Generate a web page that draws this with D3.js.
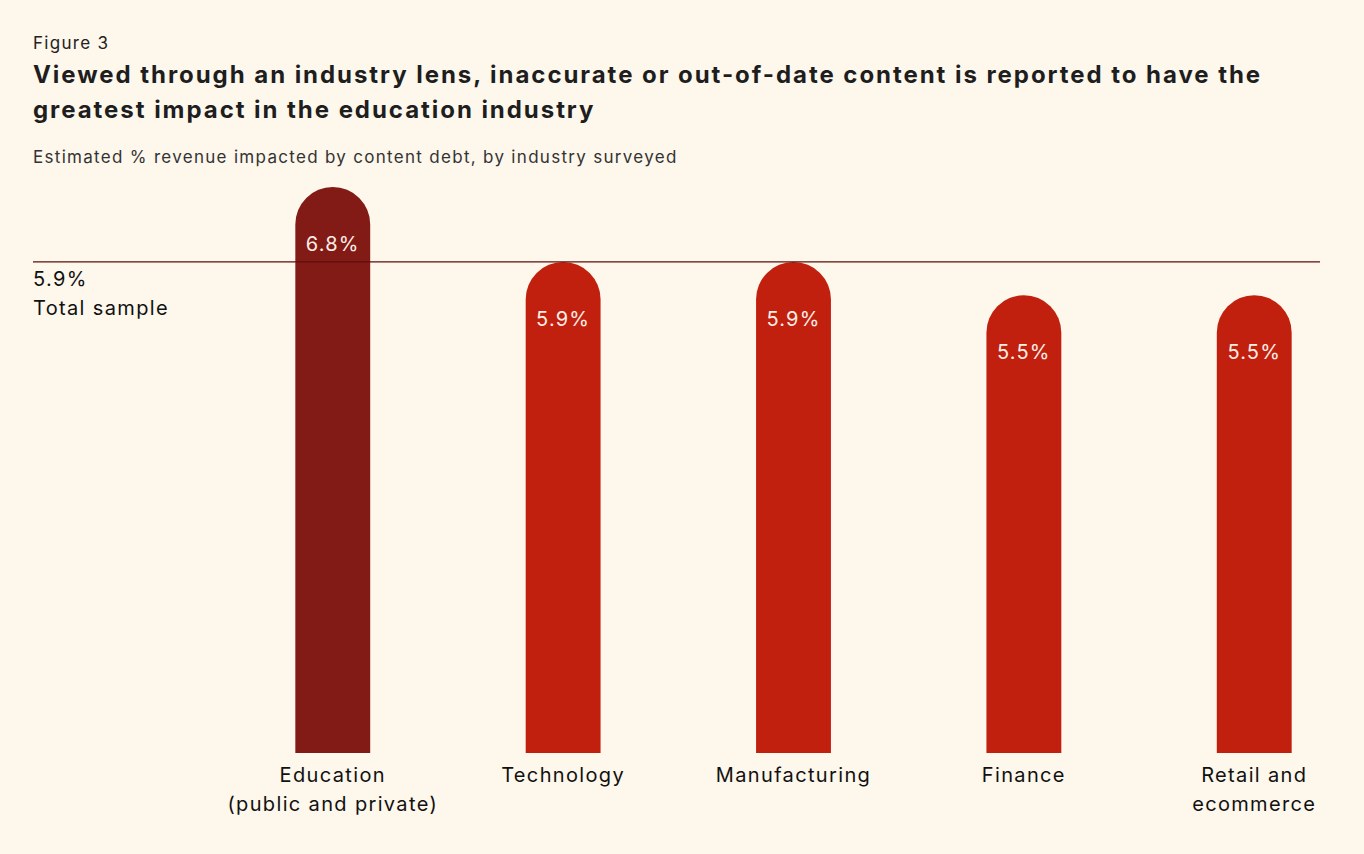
<!DOCTYPE html>
<html>
<head>
<meta charset="utf-8">
<script src="https://cdn.jsdelivr.net/npm/d3@7"></script>
<style>
  html, body { margin: 0; padding: 0; background: #fef7ec; }
  svg { display: block; }
</style>
</head>
<body>
<div id="chart"></div>
<script>
const industries = ['Education|(public and private)', 'Technology', 'Manufacturing', 'Finance', 'Retail and|ecommerce'];
const revenueImpact = [6.8, 5.9, 5.9, 5.5, 5.5];
const totalSample = 5.9;
const highlight = 'Education|(public and private)';

const W = 1364, H = 854;
const svg = d3.select('#chart')
    .append('svg')
    .attr('width', W)
    .attr('height', H);

svg.append('rect').attr('width', W).attr('height', H).attr('fill', '#fef7ec');

svg.append('text')
    .attr('x', 33).attr('y', 49)
    .attr('font-family', 'Inter, sans-serif')
    .attr('font-size', 17)
    .attr('letter-spacing', 1.3)
    .attr('fill', '#222')
    .text('Figure 3');

const titleLines = [
    'Viewed through an industry lens, inaccurate or out-of-date content is reported to have the',
    'greatest impact in the education industry'
];
svg.append('g')
    .selectAll('text')
    .data(titleLines)
    .join('text')
    .attr('x', 33)
    .attr('y', (d, i) => 83 + i * 35)
    .attr('font-family', 'Inter, sans-serif')
    .attr('font-weight', 700)
    .attr('font-size', 24)
    .attr('letter-spacing', 1.95)
    .attr('fill', '#1e1e1e')
    .text(d => d);

svg.append('text')
    .attr('x', 33).attr('y', 163)
    .attr('font-family', 'Inter, sans-serif')
    .attr('font-size', 17)
    .attr('letter-spacing', 1.3)
    .attr('fill', '#333')
    .text('Estimated % revenue impacted by content debt, by industry surveyed');

const x = d3.scaleBand()
    .domain(industries)
    .range([217, 1370])
    .paddingInner(0.675)
    .paddingOuter(0.34);

const y = d3.scaleLinear()
    .domain([0, 6.8])
    .range([753, 187]);

const bw = x.bandwidth();
const r = bw / 2;

const barPath = d => {
    const x0 = x(d.cat), x1 = x0 + bw, top = y(d.v), base = y(0);
    return `M${x0},${base}V${top + r}A${r},${r} 0 0 1 ${x1},${top + r}V${base}Z`;
};

const rows = industries.map((c, i) => ({ cat: c, v: revenueImpact[i] }));

const bars = svg.append('g').selectAll('g')
    .data(rows)
    .join('g');

bars.append('path')
    .attr('d', barPath)
    .attr('fill', d => d.cat === highlight ? '#821a16' : '#c1200e');

bars.append('text')
    .attr('x', d => x(d.cat) + r)
    .attr('y', d => y(d.v) + 64)
    .attr('text-anchor', 'middle')
    .attr('font-family', 'Inter, sans-serif')
    .attr('font-size', 20)
    .attr('letter-spacing', 1.2)
    .attr('fill', '#fdeee6')
    .text(d => d.v.toFixed(1) + '%');

bars.append('text')
    .attr('text-anchor', 'middle')
    .attr('font-family', 'Inter, sans-serif')
    .attr('font-size', 20)
    .attr('letter-spacing', 1.35)
    .attr('fill', '#111')
    .selectAll('tspan')
    .data(d => d.cat.split('|').map(t => ({ t, cx: x(d.cat) + r })))
    .join('tspan')
    .attr('x', d => d.cx)
    .attr('y', (d, i) => 782 + i * 29)
    .text(d => d.t);

// total sample reference line
svg.append('line')
    .attr('x1', 33).attr('x2', 1320)
    .attr('y1', y(totalSample)).attr('y2', y(totalSample))
    .attr('stroke', '#5c0f0c')
    .attr('stroke-width', 1.2);

svg.append('text')
    .attr('x', 33).attr('y', 286)
    .attr('font-family', 'Inter, sans-serif')
    .attr('font-size', 20)
    .attr('letter-spacing', 1.35)
    .attr('fill', '#111')
    .text(totalSample.toFixed(1) + '%');

svg.append('text')
    .attr('x', 33).attr('y', 315)
    .attr('font-family', 'Inter, sans-serif')
    .attr('font-size', 20)
    .attr('letter-spacing', 1.35)
    .attr('fill', '#111')
    .text('Total sample');
</script>
</body>
</html>
